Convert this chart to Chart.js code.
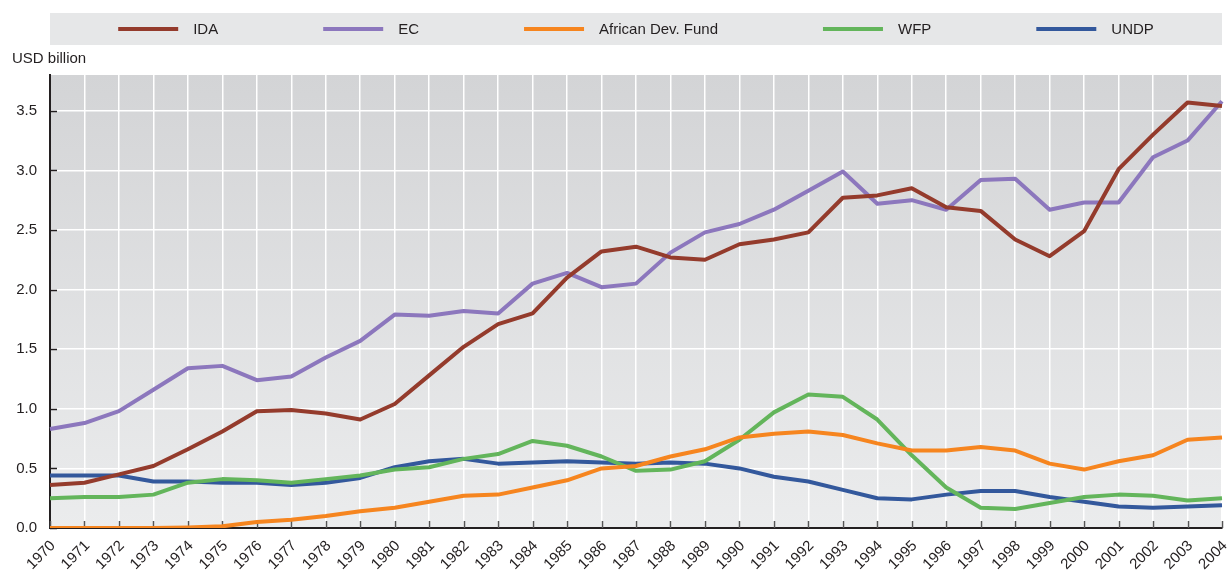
<!DOCTYPE html>
<html>
<head>
<meta charset="utf-8">
<script src="https://cdn.jsdelivr.net/npm/chart.js@4.4.1/dist/chart.umd.min.js"></script>
<style>
  html, body { margin: 0; padding: 0; background: #fff; }
  #wrap { position: relative; width: 1228px; height: 576px; }
</style>
</head>
<body>
<div id="wrap"><canvas id="chart" width="1228" height="576"></canvas></div>
<script>
// Years on the x axis
const years = ['1970','1971','1972','1973','1974','1975','1976','1977','1978','1979',
  '1980','1981','1982','1983','1984','1985','1986','1987','1988','1989',
  '1990','1991','1992','1993','1994','1995','1996','1997','1998','1999',
  '2000','2001','2002','2003','2004']

// USD billion
const ida  = [0.36,0.38,0.45,0.52,0.66,0.81,0.98,0.99,0.96,0.91,
  1.04,1.28,1.52,1.71,1.80,2.10,2.32,2.36,2.27,2.25,
  2.38,2.42,2.48,2.77,2.79,2.85,2.69,2.66,2.42,2.28,
  2.49,3.01,3.30,3.57,3.54]
const ec   = [0.83,0.88,0.98,1.16,1.34,1.36,1.24,1.27,1.43,1.57,
  1.79,1.78,1.82,1.80,2.05,2.14,2.02,2.05,2.31,2.48,
  2.55,2.67,2.83,2.99,2.72,2.75,2.67,2.92,2.93,2.67,
  2.73,2.73,3.11,3.25,3.58]
const afdf = [0.0,0.0,0.0,0.0,0.005,0.014,0.05,0.07,0.10,0.14,
  0.17,0.22,0.27,0.28,0.34,0.40,0.50,0.52,0.60,0.66,
  0.76,0.79,0.81,0.78,0.71,0.65,0.65,0.68,0.65,0.54,
  0.49,0.56,0.61,0.74,0.76]
const wfp  = [0.25,0.26,0.26,0.28,0.38,0.41,0.40,0.38,0.41,0.44,
  0.49,0.51,0.58,0.62,0.73,0.69,0.60,0.48,0.49,0.56,
  0.74,0.97,1.12,1.10,0.91,0.61,0.34,0.17,0.16,0.21,
  0.26,0.28,0.27,0.23,0.25]
const undp = [0.44,0.44,0.44,0.39,0.39,0.38,0.38,0.36,0.38,0.42,
  0.51,0.56,0.58,0.54,0.55,0.56,0.55,0.54,0.55,0.54,
  0.50,0.43,0.39,0.32,0.25,0.24,0.28,0.31,0.31,0.26,
  0.22,0.18,0.17,0.18,0.19]

const FONT = '"Liberation Sans Narrow", "Arial Narrow", "Liberation Sans", sans-serif'
const INK = '#231f20'

// plot background gradient, inward tick marks, legend band
const backdrop = {
  id: 'backdrop',
  beforeDraw(chart) {
    const { ctx, chartArea: a } = chart
    const g = ctx.createLinearGradient(0, a.top, 0, a.bottom)
    g.addColorStop(0, '#d3d4d6')
    g.addColorStop(1, '#ebeced')
    ctx.save()
    ctx.fillStyle = g
    ctx.fillRect(a.left, a.top, a.right - a.left, a.bottom - a.top)
    ctx.restore()
  },
  beforeDatasetsDraw(chart) {
    const { ctx, chartArea: a, scales } = chart
    ctx.save()
    ctx.strokeStyle = '#555'
    ctx.lineWidth = 1.5
    scales.x.ticks.forEach((t, i) => {
      const x = Math.round(scales.x.getPixelForTick(i)) + 0.5
      ctx.beginPath(); ctx.moveTo(x, a.bottom); ctx.lineTo(x, a.bottom - 7); ctx.stroke()
    })
    ctx.strokeStyle = INK
    scales.y.ticks.forEach((t, i) => {
      const y = Math.round(scales.y.getPixelForTick(i)) + 0.5
      ctx.beginPath(); ctx.moveTo(a.left, y); ctx.lineTo(a.left + 7, y); ctx.stroke()
    })
    ctx.restore()
  },
  afterDraw(chart) {
    const { ctx, chartArea: a } = chart
    ctx.save()
    ctx.fillStyle = '#e6e7e8'
    ctx.fillRect(a.left, 13, a.right - a.left, 32)
    ctx.font = '15px ' + FONT
    ctx.textBaseline = 'middle'
    const sets = chart.data.datasets
    const gap = 105
    const widths = sets.map(d => 75 + ctx.measureText(d.label).width)
    const total = widths.reduce((s, w) => s + w, 0) + gap * (sets.length - 1)
    let x = (a.left + a.right) / 2 - total / 2
    const cy = 29
    sets.forEach((d, i) => {
      ctx.strokeStyle = d.borderColor
      ctx.lineWidth = 4
      ctx.beginPath(); ctx.moveTo(x, cy); ctx.lineTo(x + 60, cy); ctx.stroke()
      ctx.fillStyle = INK
      ctx.fillText(d.label, x + 75, cy + 1)
      x += widths[i] + gap
    })
    ctx.textBaseline = 'alphabetic'
    ctx.fillText('USD billion', 12, 63)
    ctx.restore()
  },
}

const ds = (label, data, color) => ({ label, data, borderColor: color, backgroundColor: color })

new Chart(document.getElementById('chart'), {
  type: 'line',
  data: {
    labels: years,
    datasets: [
      ds('IDA', ida, '#943b2c'),
      ds('EC', ec, '#8c77bd'),
      ds('African Dev. Fund', afdf, '#f6851f'),
      ds('WFP', wfp, '#63b55b'),
      ds('UNDP', undp, '#33589c'),
    ],
  },
  options: {
    responsive: false,
    animation: false,
    layout: { padding: { top: 75, right: 6, left: 0, bottom: 0 } },
    elements: { point: { radius: 0 }, line: { borderWidth: 4, tension: 0, borderJoinStyle: 'round', borderCapStyle: 'butt' } },
    plugins: { legend: { display: false }, tooltip: { enabled: false } },
    scales: {
      x: {
        offset: false,
        grid: { color: '#ffffff', lineWidth: 1.5, drawTicks: false },
        border: { color: INK, width: 2 },
        ticks: { autoSkip: false, maxRotation: 45, minRotation: 45, color: INK, padding: 9, labelOffset: 3, font: { family: FONT, size: 15 } },
        afterFit(s) { s.height = 48; s.paddingLeft = 0; s.paddingRight = 0 },
      },
      y: {
        min: 0,
        max: 3.8,
        grid: { color: '#ffffff', lineWidth: 1.5, drawTicks: false },
        border: { color: INK, width: 2 },
        ticks: { stepSize: 0.5, color: INK, padding: 13, font: { family: FONT, size: 15 }, callback: v => v.toFixed(1) },
        afterBuildTicks(s) { s.ticks = s.ticks.filter(t => Math.abs(t.value * 2 - Math.round(t.value * 2)) < 1e-6) },
        afterFit(s) { s.width = 50; s.paddingTop = 0; s.paddingBottom = 0 },
      },
    },
  },
  plugins: [backdrop],
})
</script>
</body>
</html>
